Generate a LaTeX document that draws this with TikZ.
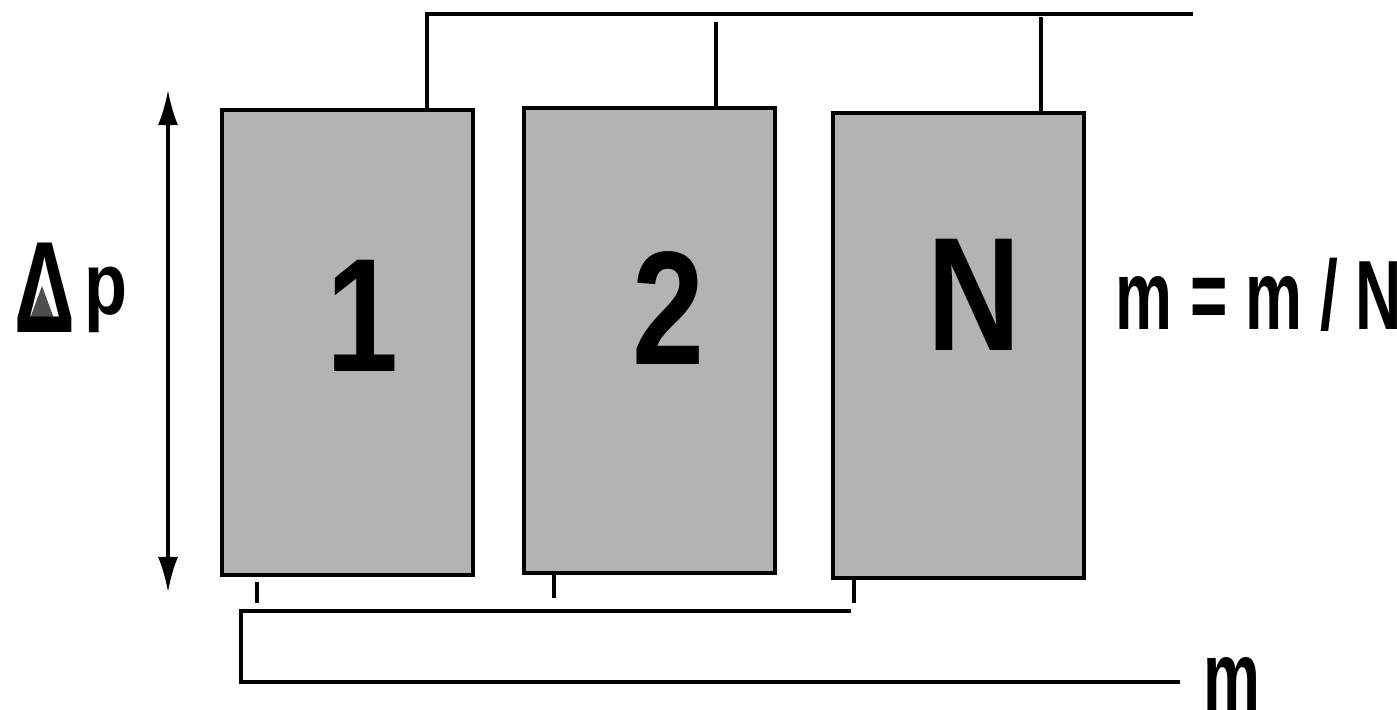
\documentclass[tikz,border=0pt]{standalone}
\usepackage{fontspec}
\setmainfont{Liberation Sans}
\newfontfamily\numfont[FakeStretch=0.8]{Liberation Sans}
\newfontfamily\narrowfont[FakeStretch=0.65, LetterSpace=18]{Liberation Sans}
\newfontfamily\deltafont[FakeStretch=0.65]{Liberation Sans}
\usetikzlibrary{arrows.meta, positioning, calc}
\definecolor{boxgray}{RGB}{179,179,179}
\definecolor{deltagray}{RGB}{77,77,77}

\begin{document}
\begin{tikzpicture}[x=0.01cm, y=-0.01cm,
        cell/.style={draw, line width=1.15pt, fill=boxgray, minimum width=2.51cm, minimum height=4.65cm, inner sep=0pt},
        num/.style={font=\numfont\bfseries\fontsize{46}{50}\selectfont, inner sep=0pt},
        lbl/.style={font=\narrowfont\bfseries\fontsize{28}{30}\selectfont, inner sep=0pt},
        wire/.style={line width=1.15pt},
        dim/.style={{Latex[length=0.35cm, width=0.2cm]}-{Latex[length=0.35cm, width=0.2cm]}, line width=0.9pt}
    ]
    \useasboundingbox (0,0) rectangle (1397,710);
    % cells
    \node[cell] (b1) at (347.5,342.5) {};
    \node[cell] (b2) at (649.5,340.5) {};
    \node[cell] (bN) at (958.5,345.5) {};
    \node[num] (n1) at (362,316) {1};
    \node[num] (n2) at (668,308) {2};
    \node[num] (nN) at (974,295) {N};
    % top manifold
    \coordinate (t1) at (427,14);
    \coordinate (tend) at (1193,14);
    \coordinate (t2) at (716,22);
    \coordinate (tN) at (1041,17);
    \draw[wire] (b1.north -| t1) -- (t1) -- (tend);
    \draw[wire] (b2.north -| t2) -- (t2);
    \draw[wire] (bN.north -| tN) -- (tN);
    % bottom manifold
    \coordinate (s1) at (257,603);
    \coordinate (s2) at (554,598);
    \coordinate (sN) at (854,603);
    \draw[wire] ($(b1.south -| s1)+(0,5)$) -- (s1);
    \draw[wire] (b2.south -| s2) -- (s2);
    \draw[wire] (bN.south -| sN) -- (sN);
    \coordinate (c1) at (851,611);
    \coordinate (c2) at (241,611);
    \coordinate (c3) at (241,682);
    \coordinate (cend) at (1180,682);
    \draw[wire] (c1) -- (c2) -- (c3) -- (cend);
    % pressure drop
    \coordinate (a1) at (168,90);
    \coordinate (a2) at (168,592);
    \draw[dim] (a1) -- (a2);
    \fill[deltagray] (28,324) -- (56,324) -- (42,286) -- cycle;
    \node[font=\deltafont\bfseries\fontsize{37}{40}\selectfont, inner sep=0pt, anchor=base west] (dl) at (14,333) {Δ};
    \node[font=\numfont\bfseries\fontsize{25}{30}\selectfont, inner sep=0pt, anchor=base west] (pp) at (84,315) {p};
    % flow labels
    \node[lbl, anchor=base west] (mN) at (1115,330) {m=m/N};
    \node[lbl, anchor=base west] (m) at (1203,710) {m};
\end{tikzpicture}
\end{document}
